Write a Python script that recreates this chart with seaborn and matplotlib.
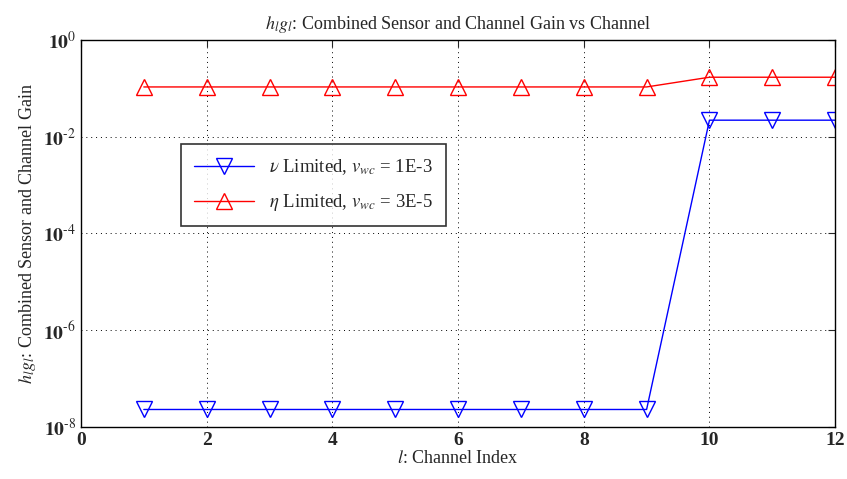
import numpy as np
import pandas as pd
import matplotlib
matplotlib.use("Agg")
import matplotlib.pyplot as plt
import seaborn as sns

# data
channels = [1, 2, 3, 4, 5, 6, 7, 8, 9, 10, 11, 12]
nu_gain = [2.3e-8] * 9 + [2.2e-2] * 3
eta_gain = [1.07e-1] * 9 + [1.7e-1] * 3
x_ticks = [0, 2, 4, 6, 8, 10, 12]
y_ticks = [1e-8, 1e-6, 1e-4, 1e-2, 1e0]

sns.set_style("white")
plt.rcParams["font.family"] = ["Liberation Serif", "DejaVu Serif"]
plt.rcParams["mathtext.fontset"] = "stix"

df = pd.DataFrame({"channel": channels, "nu": nu_gain, "eta": eta_gain})

fig = plt.figure(figsize=(8.47, 4.79), dpi=100)
ax = fig.add_axes([0.0956, 0.1086, 0.8904, 0.8079])

sns.lineplot(data=df, x="channel", y="nu", ax=ax, color="blue", lw=1.0,
             marker="v", markersize=11, markerfacecolor="none",
             markeredgecolor="blue", markeredgewidth=1.0,
             label=r"$\nu$ Limited, $v_{wc}$ = 1E-3")
sns.lineplot(data=df, x="channel", y="eta", ax=ax, color="red", lw=1.0,
             marker="^", markersize=11, markerfacecolor="none",
             markeredgecolor="red", markeredgewidth=1.0,
             label=r"$\eta$ Limited, $v_{wc}$ = 3E-5")

ax.set_yscale("log")
ax.set_xlim(0, 12)
ax.set_ylim(1e-8, 1e0)
ax.set_xticks(x_ticks)
ax.set_yticks(y_ticks)
ax.set_yticklabels([r"$\mathbf{10^{\text{%d}}}$" % int(np.log10(v)) for v in y_ticks])
ax.minorticks_off()
ax.tick_params(direction="in", length=5, width=0.8, labelsize=14, top=True, right=True)
for lab in ax.get_xticklabels():
    lab.set_fontweight("bold")
ax.grid(True, linestyle=(0, (1, 4)), color="black", lw=0.7)
for s in ax.spines.values():
    s.set_color("black")
    s.set_linewidth(1.0)

ax.set_xlabel(r"$l$: Channel Index", fontsize=13, labelpad=1)
ax.set_ylabel(r"$h_lg_l$: Combined Sensor and Channel Gain", fontsize=13, labelpad=4)
ax.set_title(r"$h_lg_l$: Combined Sensor and Channel Gain vs Channel", fontsize=13, pad=8)

leg = ax.legend(loc="upper left", bbox_to_anchor=(0.12, 0.755), fontsize=13.5,
                frameon=True, fancybox=False, edgecolor="black",
                handlelength=3.2, borderpad=0.7, labelspacing=0.8)
leg.get_frame().set_linewidth(1.2)

fig.savefig("out.png", dpi=100)
